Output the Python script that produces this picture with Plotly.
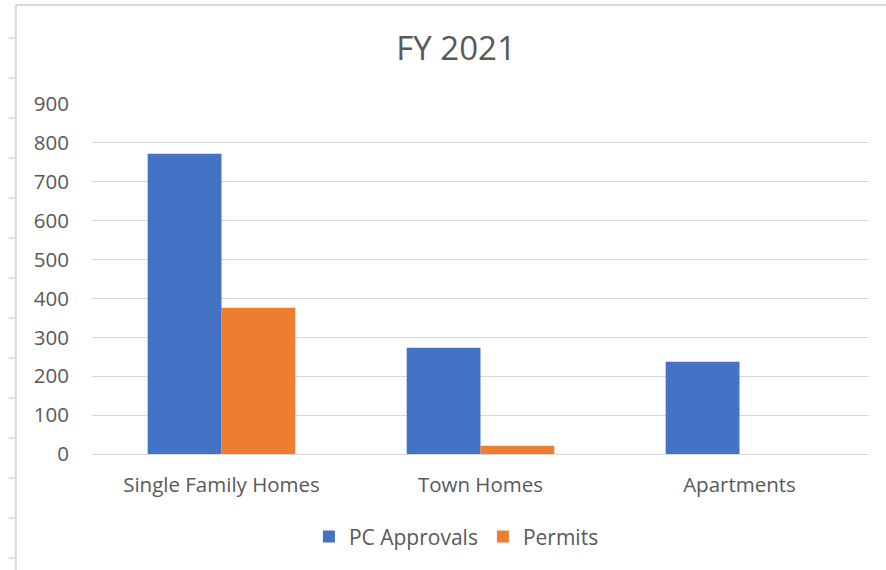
import plotly.graph_objects as go

categories = ["Single Family Homes", "Town Homes", "Apartments"]
pc_approvals = [772, 273, 237]
permits = [376, 21, 0]

FONT = "Open Sans"
GRAY = "#595959"

fig = go.Figure()
fig.add_trace(go.Bar(name="PC Approvals", x=categories, y=pc_approvals,
                     marker=dict(color="#4472C4", line=dict(width=0))))
fig.add_trace(go.Bar(name="Permits", x=categories, y=permits,
                     marker=dict(color="#ED7D31", line=dict(width=0))))

H = 350.0
shapes = [
    dict(type="line", xref="paper", yref="paper", x0=-0.098, x1=1.03, y0=1 + 99/H, y1=1 + 99/H,
         line=dict(color="#d9d9d9", width=2)),
    dict(type="line", xref="paper", yref="paper", x0=-0.098, x1=-0.098, y0=1 + 99/H, y1=-116/H,
         line=dict(color="#d9d9d9", width=2)),
]
for ypx in range(38, 570, 40):
    yp = 1 - (ypx - 104) / H
    shapes.append(dict(type="line", xref="paper", yref="paper", x0=-0.108, x1=-0.098, y0=yp, y1=yp,
                       line=dict(color="#d9d9d9", width=1.5)))

fig.update_layout(
    width=886, height=570,
    margin=dict(l=92, r=17, t=104, b=116),
    paper_bgcolor="white", plot_bgcolor="white",
    title=dict(text="FY 2021", x=456/886, xanchor="center", y=1 - 48/570, yanchor="middle",
               font=dict(family=FONT, size=33, color=GRAY)),
    barmode="group", bargap=0.43, bargroupgap=0,
    font=dict(family=FONT, size=20, color=GRAY),
    xaxis=dict(showgrid=False, showline=False, ticks="", tickfont=dict(size=20.5, color=GRAY),
               ticklabelstandoff=16),
    yaxis=dict(range=[0, 900], dtick=100, showgrid=True, gridcolor="#d9d9d9", gridwidth=1.3,
               zeroline=True, zerolinecolor="#d9d9d9", zerolinewidth=1.3, showline=False,
               tickfont=dict(size=20.5, color=GRAY), ticklabelstandoff=22),
    legend=dict(orientation="h", x=0.469, xanchor="center", y=-0.237, yanchor="middle",
                font=dict(size=21, color=GRAY), itemwidth=30, traceorder="normal"),
    shapes=shapes,
)

fig.write_html("out.html", post_script="document.body.style.margin='0';",
               config={"displayModeBar": False})
